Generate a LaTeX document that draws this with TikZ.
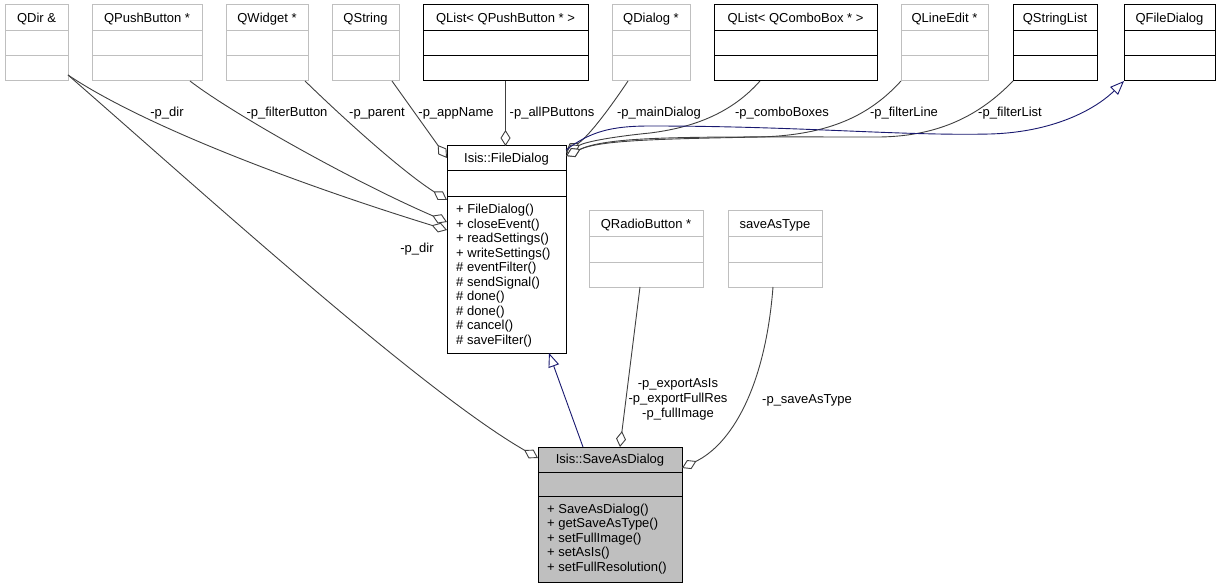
\documentclass[tikz,border=0pt]{standalone}
\usepackage{fontspec}
\setmainfont{Liberation Sans}
\usetikzlibrary{arrows.meta}
\definecolor{edgegray}{HTML}{404040}
\definecolor{boxgray}{HTML}{BFBFBF}
\definecolor{inhblue}{HTML}{191970}
\tikzset{
 lbox/.style={draw=boxgray, line width=1pt, fill=white, inner sep=0pt, outer sep=0pt, anchor=north west},
 lbox-line/.style={draw=boxgray, line width=1pt},
 dbox/.style={draw=black, line width=1pt, fill=white, inner sep=0pt, outer sep=0pt, anchor=north west},
 dbox-line/.style={draw=black, line width=1pt},
 sbox/.style={draw=black, line width=1pt, fill=boxgray, inner sep=0pt, outer sep=0pt, anchor=north west},
 sbox-line/.style={draw=black, line width=1pt},
 txt/.style={font=\fontsize{13}{15}\selectfont, inner sep=0pt, anchor=base},
 mth/.style={font=\fontsize{13}{15}\selectfont, inner sep=0pt, anchor=base west},
 assoc/.style={draw=edgegray, line width=0.9pt, -{Diamond[open, fill=white, length=16pt, width=10pt]}},
 inh/.style={draw=inhblue, line width=0.9pt, -{Triangle[open, fill=white, length=14pt, width=11pt]}},
}
\newcommand{\umlbox}[8]{%
 \node[#8, minimum width={#3pt-#2pt}, minimum height={#7pt-#4pt}] (#1) at (#2,#4) {};
 \draw[#8-line] (#2,#5) -- (#3,#5) (#2,#6) -- (#3,#6);
}
\begin{document}
\begin{tikzpicture}[x=1pt,y=-1pt]
\useasboundingbox[fill=white] (0,0) rectangle (1221,588);

% top row
\umlbox{qdir}{5}{68}{5}{31}{56}{81}{lbox}
\node[txt] (qdir-t) at (36.5,22.5) {QDir \&};
\umlbox{qpb}{92}{202}{5}{31}{56}{81}{lbox}
\node[txt] (qpb-t) at (147,22.5) {QPushButton *};
\umlbox{qw}{226}{308}{5}{31}{56}{81}{lbox}
\node[txt] (qw-t) at (267,22.5) {QWidget *};
\umlbox{qs}{332}{399}{5}{31}{56}{81}{lbox}
\node[txt] (qs-t) at (365.5,22.5) {QString};
\umlbox{qlpb}{423}{588}{5}{31}{56}{81}{dbox}
\node[txt] (qlpb-t) at (505.5,22.5) {QList< QPushButton * >};
\umlbox{qd}{612}{690}{5}{31}{56}{81}{lbox}
\node[txt] (qd-t) at (651,22.5) {QDialog *};
\umlbox{qlcb}{714}{877}{5}{31}{56}{81}{dbox}
\node[txt] (qlcb-t) at (795.5,22.5) {QList< QComboBox * >};
\umlbox{qle}{901}{988}{5}{31}{56}{81}{lbox}
\node[txt] (qle-t) at (944.5,22.5) {QLineEdit *};
\umlbox{qsl}{1013}{1097}{5}{31}{56}{81}{dbox}
\node[txt] (qsl-t) at (1055,22.5) {QStringList};
\umlbox{qfd}{1124}{1215}{5}{31}{56}{81}{dbox}
\node[txt] (qfd-t) at (1169.5,22.5) {QFileDialog};

% FileDialog
\umlbox{fd}{447}{566}{146}{171}{197}{353}{dbox}
\node[txt] (fd-t) at (506.5,162.5) {Isis::FileDialog};
\foreach \m [count=\i] in {+ FileDialog(), + closeEvent(), + readSettings(), + writeSettings(), \# eventFilter(), \# sendSignal(), \# done(), \# done(), \# cancel(), \# saveFilter()}
  \node[mth] (fd-m\i) at (456,{214+(\i-1)*14.45}) {\m};

% middle boxes
\umlbox{qrb}{589}{703}{211}{237}{262}{287}{lbox}
\node[txt] (qrb-t) at (646,228.5) {QRadioButton *};
\umlbox{sat}{728}{822}{211}{237}{262}{287}{lbox}
\node[txt] (sat-t) at (775,228.5) {saveAsType};

% SaveAsDialog
\umlbox{sad}{538}{682}{447}{472}{496}{582}{sbox}
\node[txt] (sad-t) at (610,463.5) {Isis::SaveAsDialog};
\foreach \m [count=\i] in {+ SaveAsDialog(), + getSaveAsType(), + setFullImage(), + setAsIs(), + setFullResolution()}
  \node[mth] (sad-m\i) at (547,{513+(\i-1)*14.6}) {\m};

% edges to FileDialog (left)
\draw[assoc] ([yshift=6pt]qdir.south east) .. controls (150,130) and (317,190) .. ([yshift=-84pt]fd.north west);
\draw[assoc] ([yshift=6pt]qdir.south east) .. controls (200,190) and (420,390) .. ([yshift=-11pt]sad.north west);
\draw[assoc] ([xshift=-12pt]qpb.south east) .. controls (230,112) and (350,180) .. ([yshift=-76pt]fd.north west);
\draw[assoc] ([xshift=-3pt]qw.south east) .. controls (340,115) and (400,170) .. ([yshift=-54pt]fd.north west);
\draw[assoc] ([xshift=-7pt]qs.south east) -- ([yshift=-12pt]fd.north west);
\draw[assoc] (qlpb.south) -- (qlpb.south |- fd.north);

% edges to FileDialog (right)
\draw[assoc] ([xshift=16pt]qd.south west) .. controls (612,105) and (590,135) .. ([yshift=-6pt]fd.north east);
\draw[assoc] ([xshift=46pt]qlcb.south west) .. controls (730,115) and (690,128) .. (650,133) .. controls (610,137) and (585,142) .. ([yshift=-7pt]fd.north east);
\draw[assoc] (qle.south west) .. controls (870,115) and (830,135) .. (760,137) .. controls (660,139) and (600,140) .. ([yshift=-10pt]fd.north east);
\draw[assoc] (qsl.south west) .. controls (980,115) and (940,136) .. (880,137) .. controls (700,137) and (610,135) .. ([yshift=-10pt]fd.north east);
\draw[inh] ([yshift=-4pt]fd.north east) .. controls (590,132) and (610,126) .. (650,126) .. controls (800,126) and (900,136) .. (990,134) .. controls (1060,132) and (1100,105) .. (qfd.south west);

% edges to SaveAsDialog
\draw[inh] ([xshift=45pt]sad.north west) -- ([xshift=102pt]fd.south west);
\draw[assoc] ([xshift=51pt]qrb.south west) -- ([xshift=82pt]sad.north west);
\draw[assoc] ([xshift=45pt]sat.south west) .. controls (765,390) and (730,445) .. ([yshift=-21pt]sad.north east);

% labels
\node[txt] (l-dir1) at (167,117) {-p\_dir};
\node[txt] (l-fb) at (287,117) {-p\_filterButton};
\node[txt] (l-par) at (377,117) {-p\_parent};
\node[txt] (l-app) at (456,117) {-p\_appName};
\node[txt] (l-apb) at (552,117) {-p\_allPButtons};
\node[txt] (l-md) at (659,117) {-p\_mainDialog};
\node[txt] (l-cb) at (782,117) {-p\_comboBoxes};
\node[txt] (l-fl) at (904,117) {-p\_filterLine};
\node[txt] (l-fli) at (1010,117) {-p\_filterList};
\node[txt] (l-dir2) at (417,253) {-p\_dir};
\node[txt] (l-rb1) at (678,387) {-p\_exportAsIs};
\node[txt] (l-rb2) at (678,402) {-p\_exportFullRes};
\node[txt] (l-rb3) at (678,417) {-p\_fullImage};
\node[txt] (l-sat) at (807,403) {-p\_saveAsType};
\end{tikzpicture}
\end{document}
